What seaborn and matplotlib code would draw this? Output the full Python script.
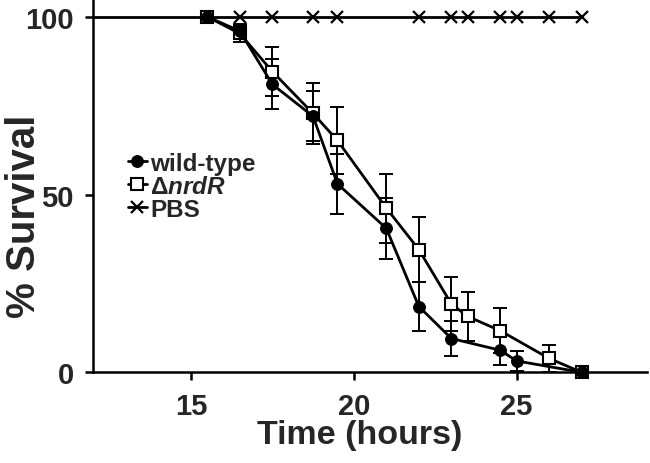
import numpy as np
import pandas as pd
import matplotlib
matplotlib.use('Agg')
import matplotlib.pyplot as plt
import seaborn as sns

# Survival data
wt_time = [15.5, 16.5, 17.5, 18.75, 19.5, 21, 22, 23, 24.5, 25, 27]
wt_surv = [100, 96, 81, 72, 53, 40.5, 18.5, 9.5, 6.2, 3.2, 0]
wt_err = [0, 2, 7, 7, 8.5, 8.5, 6.8, 5, 4.2, 2.8, 0]

nrdr_time = [15.5, 16.5, 17.5, 18.75, 19.5, 21, 22, 23, 23.5, 24.5, 26, 27]
nrdr_surv = [100, 95.3, 84.6, 72.8, 65.2, 46.2, 34.5, 19.2, 15.7, 11.7, 3.9, 0]
nrdr_err = [0, 2.5, 7, 8.7, 9.4, 9.7, 9.2, 7.7, 6.8, 6.3, 3.9, 0]

pbs_time = [0, 15.5, 16.5, 17.5, 18.75, 19.5, 22, 23, 23.5, 24.5, 25, 26, 27]
pbs_surv = [100] * len(pbs_time)

x_ticks = [15, 20, 25]
y_ticks = [0, 50, 100]

sns.set_theme(style='ticks')
plt.rcParams['font.family'] = ['Liberation Sans', 'DejaVu Sans']
plt.rcParams['font.weight'] = 'bold'
plt.rcParams['mathtext.fontset'] = 'custom'
plt.rcParams['mathtext.rm'] = 'Liberation Sans:bold'
plt.rcParams['mathtext.it'] = 'Liberation Sans:italic:bold'

fig = plt.figure(figsize=(6.5, 4.64), dpi=100)
ax = fig.add_axes([0.1435, 0.1955, 0.8515, 0.8045])

wt = pd.DataFrame({'time': wt_time, 'surv': wt_surv, 'err': wt_err})
nrdr = pd.DataFrame({'time': nrdr_time, 'surv': nrdr_surv, 'err': nrdr_err})
pbs = pd.DataFrame({'time': pbs_time, 'surv': pbs_surv})

# PBS control (flat line at 100%)
sns.lineplot(data=pbs, x='time', y='surv', ax=ax, color='black', lw=2.0,
             marker='x', markersize=9, markeredgewidth=1.6,
             markeredgecolor='black', label='PBS', zorder=2)

# error bars
ax.errorbar(nrdr['time'], nrdr['surv'], yerr=nrdr['err'], fmt='none',
            ecolor='black', elinewidth=1.4, capsize=5, capthick=1.4,
            zorder=3, clip_on=False)
ax.errorbar(wt['time'], wt['surv'], yerr=wt['err'], fmt='none',
            ecolor='black', elinewidth=1.4, capsize=5, capthick=1.4,
            zorder=3, clip_on=False)

sns.lineplot(data=nrdr, x='time', y='surv', ax=ax, color='black', lw=2.0,
             marker='s', markersize=9, markerfacecolor='white',
             markeredgecolor='black', markeredgewidth=1.5,
             label=r'$\Delta\mathit{nrdR}$', zorder=4, clip_on=False)
sns.lineplot(data=wt, x='time', y='surv', ax=ax, color='black', lw=2.0,
             marker='o', markersize=8.5, markeredgecolor='black',
             label='wild-type', zorder=5, clip_on=False)

ax.set_xlim(12, 29)
ax.set_ylim(0, 105)
ax.set_xticks(x_ticks)
ax.set_yticks(y_ticks)
ax.tick_params(axis='both', direction='out', length=6, width=1.8,
               labelsize=21, color='black', pad=8)
for lbl in ax.get_xticklabels() + ax.get_yticklabels():
    lbl.set_fontweight('bold')

sns.despine(ax=ax)
for side in ['left', 'bottom']:
    ax.spines[side].set_linewidth(1.8)
    ax.spines[side].set_color('black')

ax.set_xlabel('Time (hours)', fontsize=24.5, fontweight='bold')
ax.set_ylabel('% Survival', fontsize=29, fontweight='bold')
ax.xaxis.set_label_coords(0.481, -0.125, transform=ax.transAxes)
ax.yaxis.set_label_coords(-0.09, 0.42, transform=ax.transAxes)

# legend order: wild-type, nrdR, PBS
handles, labels = ax.get_legend_handles_labels()
order = [labels.index('wild-type'), labels.index(r'$\Delta\mathit{nrdR}$'),
         labels.index('PBS')]
ax.legend([handles[i] for i in order], [labels[i] for i in order],
          loc='center left', bbox_to_anchor=(0.062, 0.499), frameon=False,
          fontsize=17.5, handlelength=0.8, handletextpad=0.12,
          labelspacing=0.0, borderpad=0, borderaxespad=0)

fig.savefig('out.png', dpi=100)
